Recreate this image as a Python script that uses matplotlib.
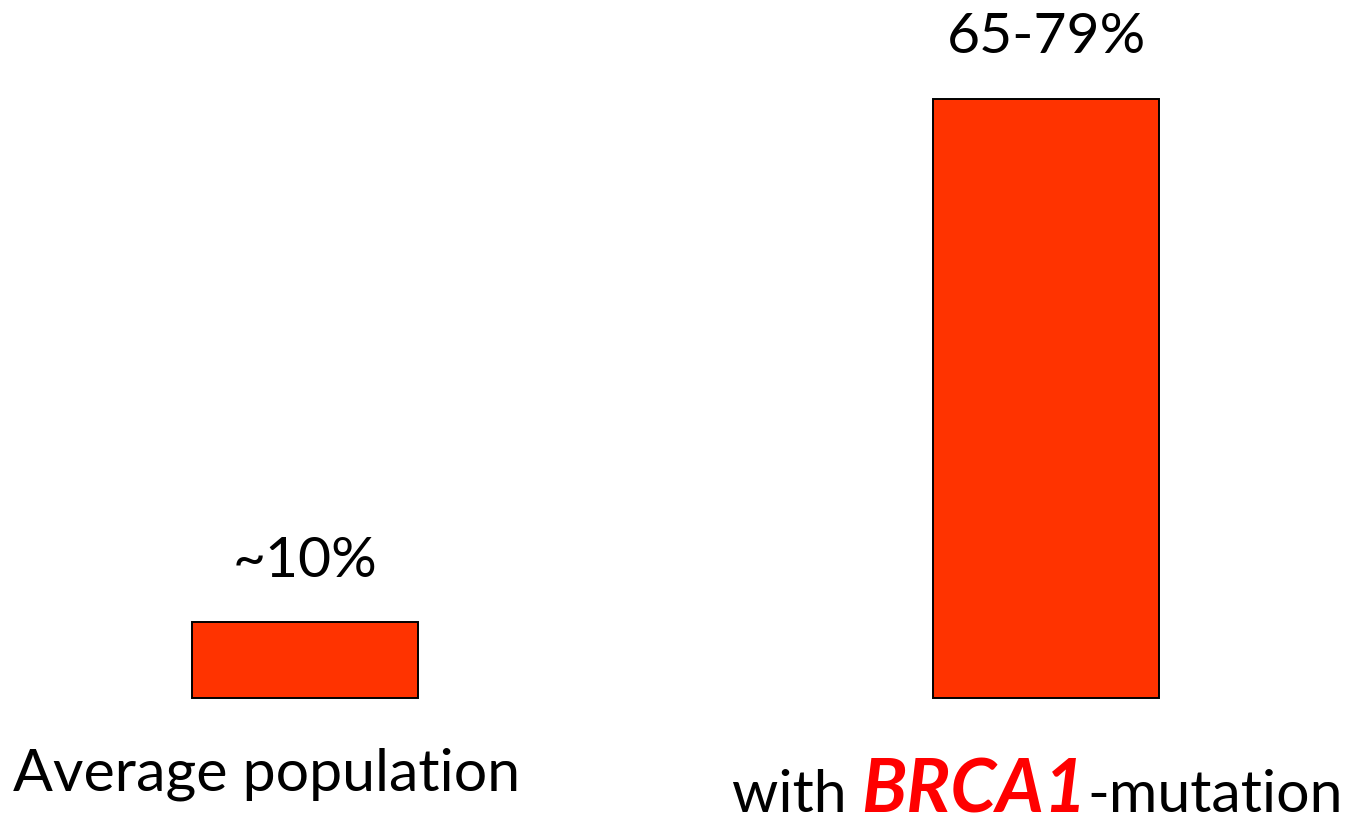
import matplotlib
matplotlib.use("Agg")
import matplotlib.pyplot as plt

# Lifetime breast cancer risk, two groups
groups = ["Average population", "with BRCA1-mutation"]
risk = [10, 79]
risk_labels = ["~10%", "65-79%"]

BAR_COLOR = "#FF3300"
FONT = "Lato"

fig = plt.figure(figsize=(13.53, 8.22), dpi=100)
ax = fig.add_axes([0, 0, 1, 1])
ax.set_xlim(-0.4116, 1.4143)
ax.set_ylim(-16.3, 92.0)
ax.axis("off")

xpos = list(range(len(groups)))
bars = ax.bar(xpos, risk, width=0.305, color=BAR_COLOR,
              edgecolor="black", linewidth=1.4)

# value labels above each bar
for rect, lab in zip(bars, risk_labels):
    ax.annotate(lab, (rect.get_x() + rect.get_width() / 2, rect.get_height()),
                xytext=(0, 33), textcoords="offset points",
                ha="center", va="baseline", fontsize=41, family=FONT)

# first category label
ax.text(-0.052, -12.1, groups[0], ha="center", va="baseline",
        fontsize=42.5, family=FONT)

# second category label: gene name larger, red bold italic
renderer = fig.canvas.get_renderer()
parts = [("with ", dict(color="black", fontsize=42.5)),
         ("BRCA1", dict(color="#FF0000", fontweight="bold",
                        fontstyle="italic", fontsize=53)),
         ("-mutation", dict(color="black", fontsize=42.5))]
texts = []
for s, kw in parts:
    t = ax.text(0, 0, s, family=FONT, va="baseline", **kw)
    texts.append(t)
widths = [t.get_window_extent(renderer).width for t in texts]
total = sum(widths)
x_center_px = ax.transData.transform((0.988, 0))[0]
y_px = ax.transData.transform((0, -15.0))[1]
x_px = x_center_px - total / 2
for t, w in zip(texts, widths):
    xd, yd = ax.transData.inverted().transform((x_px, y_px))
    t.set_position((xd, yd))
    x_px += w

fig.savefig("out.png", dpi=100)
